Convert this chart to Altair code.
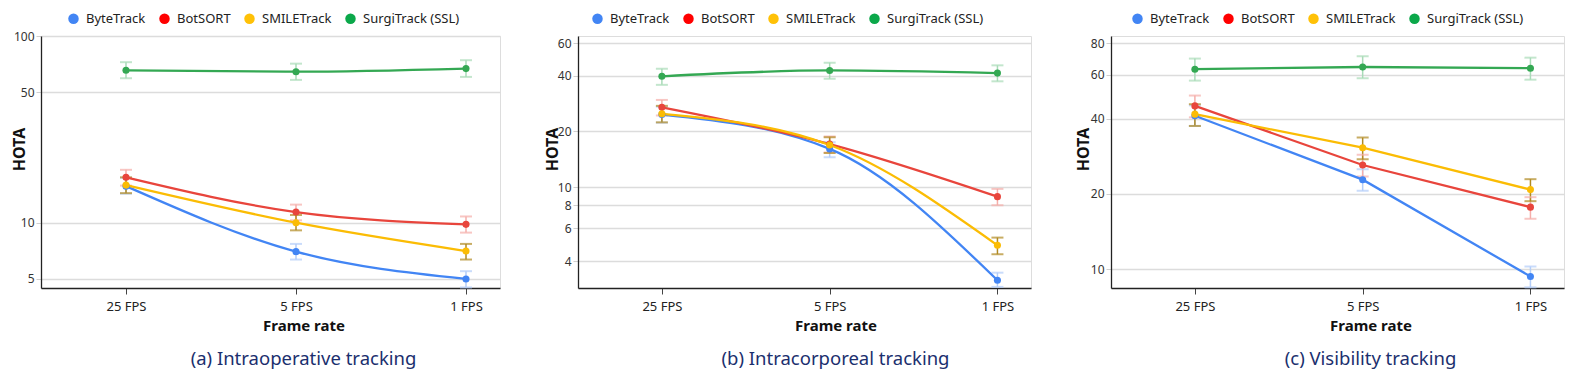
import altair as alt
import pandas as pd

categories = ["25 FPS", "5 FPS", "1 FPS"]
methods = ["ByteTrack", "BotSORT", "SMILETrack", "SurgiTrack (SSL)"]

# Panel (a) Intraoperative tracking
a_mean = {"ByteTrack": [15.7, 7.0, 5.0], "BotSORT": [17.5, 11.4, 9.8],
          "SMILETrack": [15.9, 10.0, 7.05], "SurgiTrack (SSL)": [65.5, 64.4, 66.9]}
a_lo = {"ByteTrack": [14.3, 6.35, 4.5], "BotSORT": [15.8, 10.3, 8.85],
        "SMILETrack": [14.4, 9.1, 6.35], "SurgiTrack (SSL)": [59.4, 58.2, 60.4]}
a_hi = {"ByteTrack": [17.4, 7.7, 5.5], "BotSORT": [19.2, 12.5, 10.8],
        "SMILETrack": [17.5, 11.0, 7.7], "SurgiTrack (SSL)": [72.4, 71.1, 74.2]}

# Panel (b) Intracorporeal tracking
b_mean = {"ByteTrack": [24.7, 16.1, 3.15], "BotSORT": [27.0, 17.1, 8.9],
          "SMILETrack": [24.9, 16.9, 4.86], "SurgiTrack (SSL)": [39.7, 42.7, 41.3]}
b_lo = {"ByteTrack": [22.3, 14.5, 2.9], "BotSORT": [24.4, 15.4, 8.0],
        "SMILETrack": [22.4, 15.3, 4.35], "SurgiTrack (SSL)": [35.7, 38.5, 37.3]}
b_hi = {"ByteTrack": [27.2, 17.5, 3.46], "BotSORT": [29.6, 18.8, 9.8],
        "SMILETrack": [27.5, 18.6, 5.35], "SurgiTrack (SSL)": [43.6, 47.0, 45.5]}

# Panel (c) Visibility tracking
c_mean = {"ByteTrack": [41.1, 22.8, 9.34], "BotSORT": [45.0, 26.1, 17.7],
          "SMILETrack": [41.7, 30.6, 20.8], "SurgiTrack (SSL)": [63.1, 64.4, 63.7]}
c_lo = {"ByteTrack": [37.4, 20.6, 8.45], "BotSORT": [40.5, 23.5, 15.9],
        "SMILETrack": [37.4, 27.5, 18.7], "SurgiTrack (SSL)": [56.8, 58.1, 57.3]}
c_hi = {"ByteTrack": [45.2, 25.1, 10.24], "BotSORT": [49.5, 28.7, 19.4],
        "SMILETrack": [45.7, 33.6, 22.9], "SurgiTrack (SSL)": [69.6, 71.1, 70.2]}

captions = ["(a) Intraoperative tracking", "(b) Intracorporeal tracking", "(c) Visibility tracking"]
y_ticks = [[5, 10, 50, 100], [4, 6, 8, 10, 20, 40, 60], [10, 20, 40, 60, 80]]
y_domains = [[4.47, 100], [2.86, 65.5], [8.4, 85.7]]

line_colors = ["#4285F4", "#E8453C", "#FBBC04", "#34A853"]
legend_colors = ["#4285F4", "#FF0000", "#FFC107", "#0BA84A"]
err_colors = ["#b3cdf9", "#f5aeaa", "#b08a22", "#a9dbb8"]
FONT = "Noto Sans"


def build_df(mean, lo, hi):
    rows = []
    for m in methods:
        for i, c in enumerate(categories):
            rows.append({"method": m, "xi": i, "cat": c,
                         "mean": mean[m][i], "lo": lo[m][i], "hi": hi[m][i]})
    return pd.DataFrame(rows)


label_expr = "[" + ",".join("'%s'" % c for c in categories) + "][datum.value]"


def panel(df, k, width, interp, legend_x, title_x, shift):
    base = alt.Chart(df)
    ysc = alt.Scale(type="log", domain=y_domains[k], nice=False)
    x = alt.X("xi:Q", scale=alt.Scale(domain=[-0.5, 2.2], nice=False, zero=False),
              axis=alt.Axis(values=[0, 1, 2], labelExpr=label_expr, title="Frame rate",
                            grid=False, domainColor="#222", domainWidth=1.3,
                            tickColor="#444", tickSize=6,
                            labelFontSize=13, labelColor="#222", labelFont=FONT,
                            titleFont=FONT, titleFontSize=15, titleFontWeight="bold",
                            titleColor="#111", labelPadding=6, titlePadding=5,
                            titleX=width / 2 + shift))
    y = alt.Y("mean:Q", scale=ysc,
              axis=alt.Axis(values=y_ticks[k], format="~g", title="HOTA",
                            gridColor="#dcdcdc", gridWidth=1.3, domainColor="#222",
                            domainWidth=1.3,
                            tickColor="#cfcfcf", tickSize=5, labelFontSize=12,
                            labelColor="#333", labelFont=FONT, titleFont=FONT,
                            titleFontSize=16, titleFontWeight="bold", titleColor="#111",
                            titleX=title_x, titleY=113))
    cscale = alt.Scale(domain=methods, range=line_colors)
    escale = alt.Scale(domain=methods, range=err_colors)
    lscale = alt.Scale(domain=methods, range=legend_colors)

    err = base.mark_rule(strokeWidth=1.5).encode(
        x=x, y=alt.Y("lo:Q", scale=ysc), y2="hi:Q",
        color=alt.Color("method:N", scale=escale, legend=None))
    cap_lo = base.mark_tick(orient="horizontal", size=12, thickness=2).encode(
        x=x, y=alt.Y("lo:Q", scale=ysc),
        color=alt.Color("method:N", scale=escale, legend=None))
    cap_hi = base.mark_tick(orient="horizontal", size=12, thickness=2).encode(
        x=x, y=alt.Y("hi:Q", scale=ysc),
        color=alt.Color("method:N", scale=escale, legend=None))
    line = base.mark_line(strokeWidth=2.3, interpolate=interp).encode(
        x=x, y=y, color=alt.Color("method:N", scale=cscale, legend=None),
        order="xi:Q")
    pts = base.mark_circle(size=50, opacity=1).encode(
        x=x, y=y, color=alt.Color("method:N", scale=cscale, legend=None))
    leg = base.mark_circle(size=0, opacity=1).encode(
        x=x, y=y,
        color=alt.Color("method:N", scale=lscale, sort=methods,
                        legend=alt.Legend(title=None, orient="none", direction="horizontal",
                                          legendX=legend_x, legendY=-24,
                                          symbolType="circle", symbolSize=110,
                                          symbolOpacity=1,
                                          labelFontSize=13, labelFont=FONT,
                                          labelColor="#222", columnPadding=12,
                                          labelOffset=6,
                                          symbolStrokeWidth=0)))
    return alt.layer(err, cap_lo, cap_hi, line, pts, leg).resolve_scale(
        color="independent").properties(
        width=width, height=252,
        title=alt.TitleParams(captions[k], orient="bottom", fontSize=18.5,
                              fontWeight="normal", color="#1b2f6e", font=FONT,
                              offset=17, dx=shift))


pa = panel(build_df(a_mean, a_lo, a_hi), 0, 459, "monotone", 26, -14, 33)
pb = panel(build_df(b_mean, b_lo, b_hi), 1, 453, "monotone", 13, -18, 31)
pc = panel(build_df(c_mean, c_lo, c_hi), 2, 453, "linear", 20, -20, 33)

chart = alt.hconcat(pa, pb, pc, spacing=42).resolve_scale(
    x="independent", y="independent", color="independent").resolve_legend(
    color="independent").properties(
    padding={"left": 2, "top": 3, "right": 0, "bottom": 3}).configure_view(
    stroke=None).configure(background="white", font=FONT)

chart.save("out.html", embed_options={"renderer": "svg", "actions": False})
